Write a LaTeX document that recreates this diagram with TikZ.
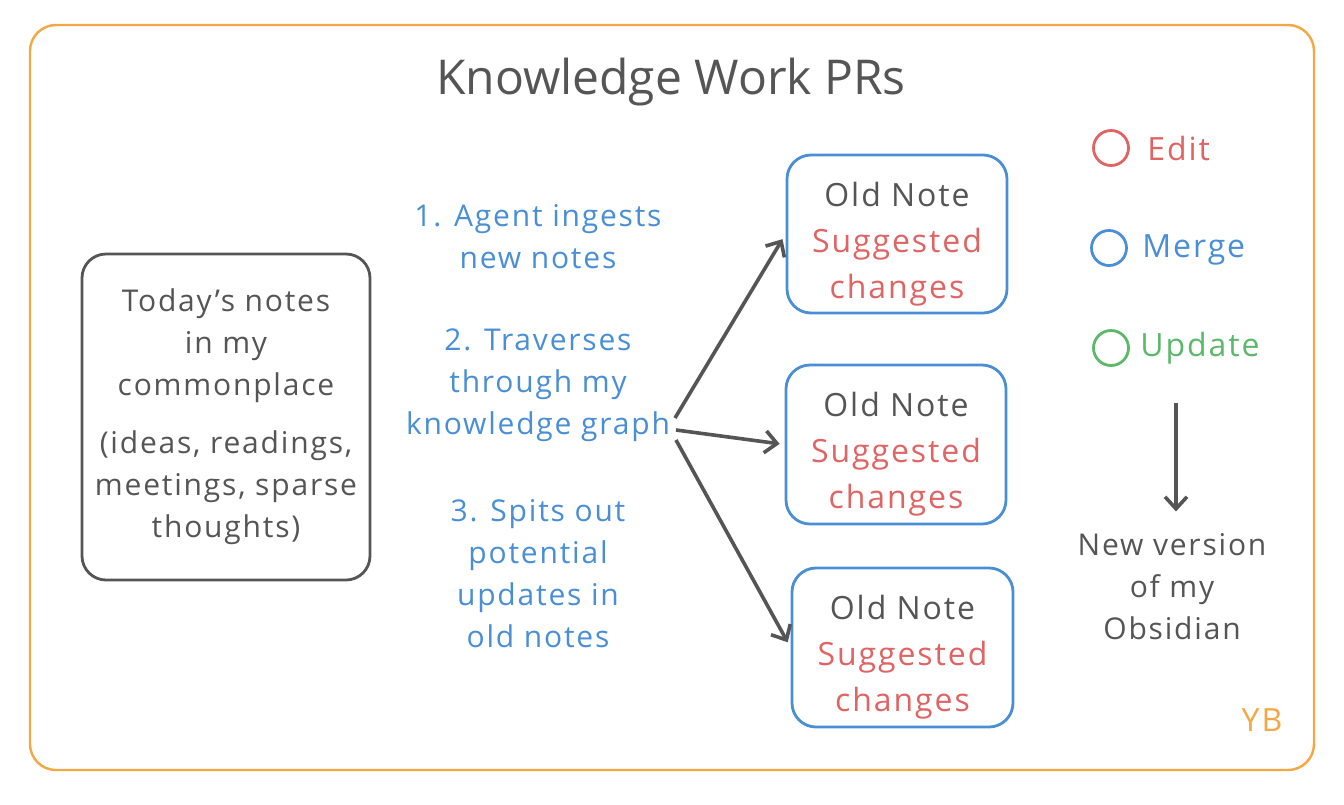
\documentclass[tikz,border=0pt]{standalone}
\usepackage{fontspec}
\setmainfont{Open Sans}
\newfontfamily\hand[LetterSpace=6]{Open Sans}
\usetikzlibrary{arrows.meta}
\definecolor{cgray}{HTML}{555555}
\definecolor{cred}{HTML}{E06464}
\definecolor{cblue}{HTML}{4A8FD6}
\definecolor{cgreen}{HTML}{5CB86A}
\definecolor{corange}{HTML}{F4A742}
\newcommand{\oldnotetext}{\raisebox{-4.5pt}[\height][\depth]{\begin{tabular}{@{}c@{}}Old Note\\\textcolor{cred}{Suggested}\\\textcolor{cred}{changes}\end{tabular}}}
\begin{document}
\begin{tikzpicture}[x=0.5pt,y=-0.5pt,
  txt/.style={font=\hand\fontsize{15}{21}\selectfont, align=center, inner sep=0pt},
  ntxt/.style={font=\hand\fontsize{16}{23}\selectfont, inner sep=0pt},
  box/.style={draw, rounded corners=12pt, line width=1.4pt},
  legc/.style={circle, draw, line width=1.4pt, minimum size=17.5pt, inner sep=0pt},
  legt/.style={font=\hand\fontsize{16}{20}\selectfont, anchor=west, inner sep=0pt},
  arr/.style={-{Straight Barb[length=6pt,width=11pt]}, line width=1.8pt, draw=cgray}]
\useasboundingbox (0,0) rectangle (1344,804);
\fill[white] (0,0) rectangle (1344,804);
\draw[corange, line width=1.2pt, rounded corners=13pt] (30,25) rectangle (1314,770);

\node[font=\fontsize{24}{30}\selectfont, text=cgray, inner sep=0pt] (title) at (671,82) {Knowledge Work PRs};

\node[box, draw=cgray, minimum width=144pt, minimum height=163pt, txt, text=cgray] (today) at (226,417)
  {Today’s notes\\in my\\commonplace\\[8pt](ideas, readings,\\meetings, sparse\\thoughts)};

\node[txt, text=cblue] (step1) at (538,237) {1. Agent ingests\\new notes};
\node[txt, text=cblue] (step2) at (538,385) {2. Traverses\\through my\\knowledge graph};
\node[txt, text=cblue] (step3) at (538,574) {3. Spits out\\potential\\updates in\\old notes};

\node[box, draw=cblue, minimum width=110pt, minimum height=79pt, ntxt, text=cgray] (old1) at (897,234) {\oldnotetext};
\node[box, draw=cblue, minimum width=110pt, minimum height=79.5pt, ntxt, text=cgray] (old2) at (896,444.5) {\oldnotetext};
\node[box, draw=cblue, minimum width=110.5pt, minimum height=79.5pt, ntxt, text=cgray] (old3) at (902.5,647.5) {\oldnotetext};

\coordinate (a1) at (675,418);
\coordinate (a2) at (676,430);
\coordinate (a3) at (676,440);
\draw[arr, shorten >=3pt] (a1) -- (old1.west);
\draw[arr, shorten >=2.5pt] (a2) -- (old2.west);
\draw[arr, shorten >=3pt] (a3) -- (old3.west);

\node[legc, draw=cred] (cedit) at (1111,148) {};
\node[legt, text=cred] (tedit) at (1147,148) {Edit};
\node[legc, draw=cblue] (cmerge) at (1109,248) {};
\node[legt, text=cblue] (tmerge) at (1142,250) {Merge};
\node[legc, draw=cgreen] (cupd) at (1111,348) {};
\node[legt, text=cgreen] (tupd) at (1140,348) {Update};

\node[txt, text=cgray] (newv) at (1172,587) {New version\\of my\\Obsidian};
\coordinate (dtop) at (1176,403);
\draw[arr] (dtop) -- (dtop |- newv.north) [shorten >=11pt];

\node[font=\hand\fontsize{16}{18}\selectfont, text=corange, inner sep=0pt] (yb) at (1262,720) {YB};
\end{tikzpicture}
\end{document}
